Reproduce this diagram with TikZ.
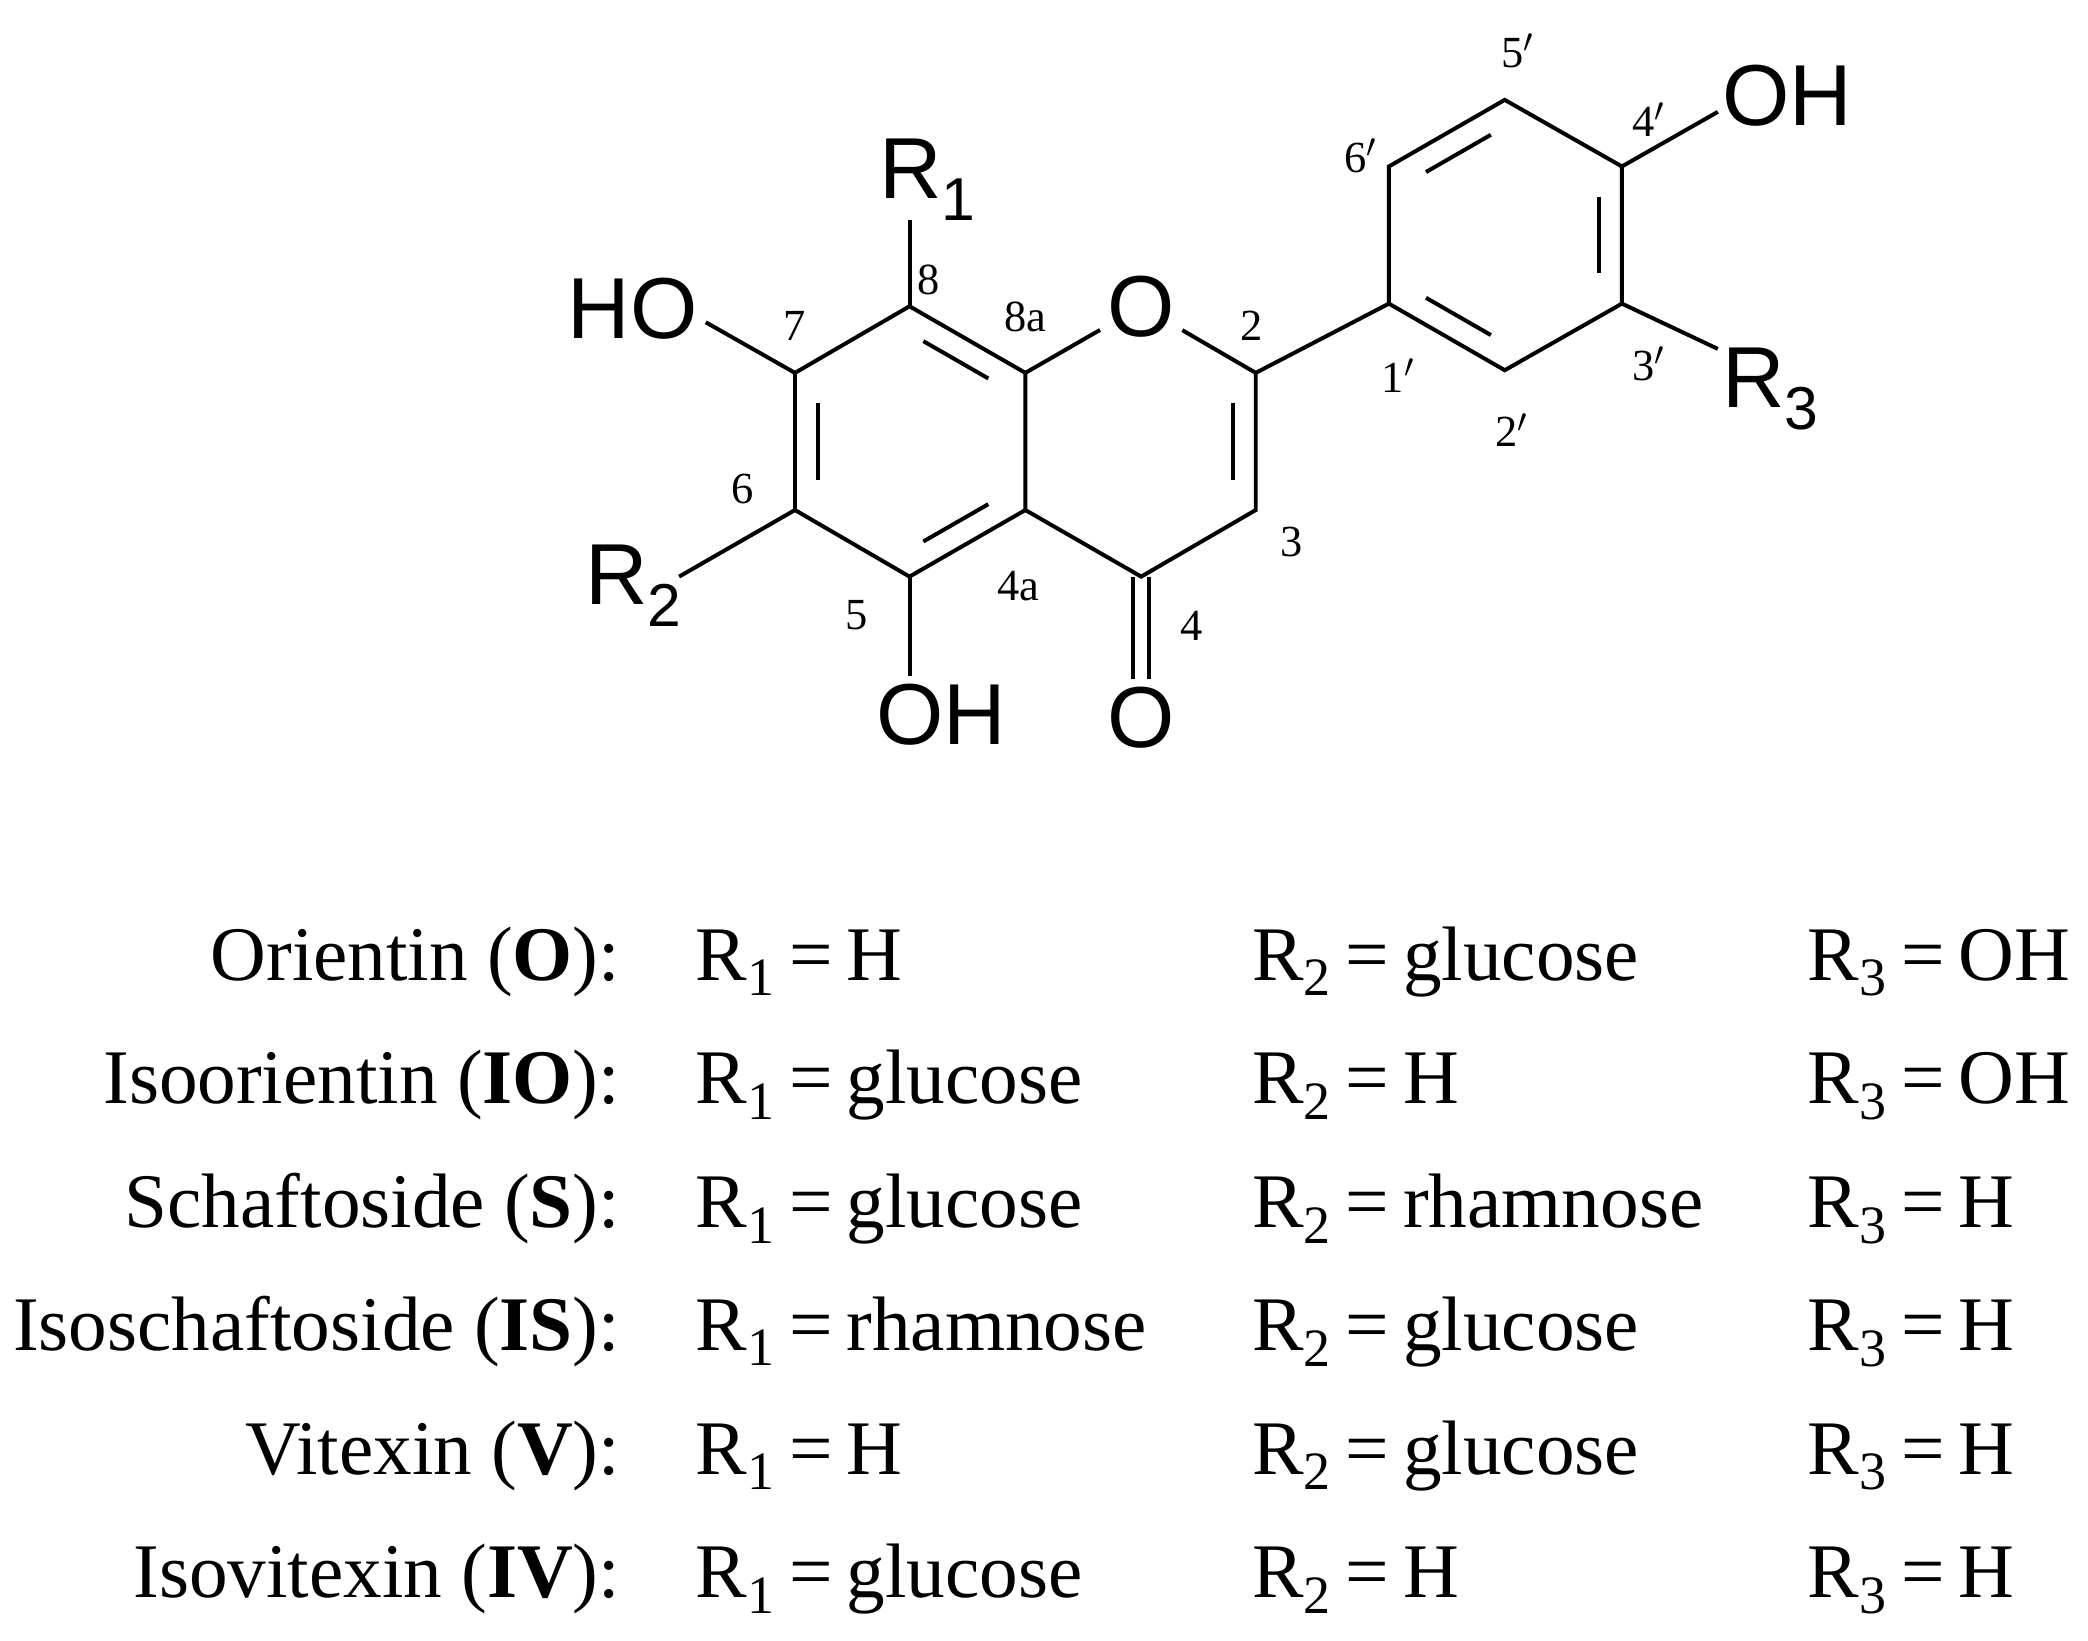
\documentclass[tikz,border=0pt]{standalone}
\usepackage{fontspec}
\setmainfont{Liberation Serif}
\newfontfamily\arialf{Liberation Sans}
\usetikzlibrary{calc}
\tikzset{
  bond/.style={line width=1.7pt},
  atom/.style={font=\arialf\fontsize{37}{40}\selectfont,inner sep=3pt},
  num/.style={font=\fontsize{19}{22}\selectfont,inner sep=0pt},
  tname/.style={anchor=base east,font=\fontsize{33}{38}\selectfont,inner sep=0pt},
  tcell/.style={anchor=base west,font=\fontsize{33}{38}\selectfont,inner sep=0pt}
}
\newcommand{\dbin}[3]{\draw[bond] ($($(#1)!.15!(#2)$)!.2!(#3)$) -- ($($(#2)!.15!(#1)$)!.2!(#3)$);}
\newcommand{\eqs}{\hspace{0.18em}=\hspace{0.18em}}
\begin{document}
\begin{tikzpicture}[x=0.02cm,y=-0.02cm]
\useasboundingbox (0,0) rectangle (1568,1232);
% ring A
\coordinate (C8) at (683,230);
\coordinate (C7) at (597,280);
\coordinate (C6) at (597,383);
\coordinate (C5) at (683,433);
\coordinate (C4a) at (770,383);
\coordinate (C8a) at (770,280);
\coordinate (cA) at (683,331);
\node[atom] (O1) at (857,230) {O};
\coordinate (C2) at (943,280);
\coordinate (C3) at (943,383);
\coordinate (C4) at (857,433);
\coordinate (cC) at (857,331);
\node[atom,anchor=north] (O4) at (857,510) {O};
% ring B
\coordinate (C1p) at (1043,228);
\coordinate (C2p) at (1130,278);
\coordinate (C3p) at (1218,228);
\coordinate (C4p) at (1218,125);
\coordinate (C5p) at (1130,75);
\coordinate (C6p) at (1043,125);
\coordinate (cB) at (1130,176);
% substituents
\node[atom,anchor=north] (OH5) at (707,508) {OH};
\node[atom] (R2) at (476,440) {R\textsubscript{2}};
\node[atom] (HO7) at (475,232) {HO};
\node[atom] (R1) at (697,135) {R\textsubscript{1}};
\node[atom] (OH4p) at (1342,72) {OH};
\node[atom] (R3) at (1330,292) {R\textsubscript{3}};
% bonds
\draw[bond] (C8)--(C7)--(C6)--(C5)--(C4a)--(C8a)--cycle;
\draw[bond] (C8a)--(O1)--(C2)--(C3)--(C4)--(C4a);
\dbin{C8}{C8a}{cA}\dbin{C7}{C6}{cA}\dbin{C5}{C4a}{cA}
\dbin{C2}{C3}{cC}
\draw[bond] ($(C4)+(-6,0)$) -- ($(O4.north)+(-6,0)$);
\draw[bond] ($(C4)+(6,0)$) -- ($(O4.north)+(6,0)$);
\draw[bond] (C2)--(C1p);
\draw[bond] (C1p)--(C2p)--(C3p)--(C4p)--(C5p)--(C6p)--cycle;
\dbin{C6p}{C5p}{cB}\dbin{C4p}{C3p}{cB}\dbin{C2p}{C1p}{cB}
\draw[bond] (C5)--(OH5.north -| C5);
\draw[bond] (C6)--(510,433);
\draw[bond] (C7)--(530,242);
\draw[bond] (C8)--(683,165);
\draw[bond] (C4p)--(1290,84);
\draw[bond] (C3p)--(1290,262);
% numbers
\node[num] (n8) at (697,210) {8};
\node[num] (n7) at (597,245) {7};
\node[num] (n8a) at (770,238) {8a};
\node[num] (n2) at (940,245) {2};
\node[num] (n1p) at (1050,282) {1$'$};
\node[num] (n2p) at (1135,323) {2$'$};
\node[num] (n3p) at (1238,273) {3$'$};
\node[num] (n4p) at (1238,90) {4$'$};
\node[num] (n5p) at (1140,38) {5$'$};
\node[num] (n6p) at (1022,117) {6$'$};
\node[num] (n6) at (558,367) {6};
\node[num] (n5) at (643,462) {5};
\node[num] (n4a) at (765,440) {4a};
\node[num] (n3) at (970,407) {3};
\node[num] (n4) at (895,470) {4};
% table
\foreach \y/\nm/\a/\b/\c [count=\i] in {
 736/{Orientin (\textbf{O}):}/H/glucose/OH,
 829/{Isoorientin (\textbf{IO}):}/glucose/H/OH,
 922/{Schaftoside (\textbf{S}):}/glucose/rhamnose/H,
 1014/{Isoschaftoside (\textbf{IS}):}/rhamnose/glucose/H,
 1107/{Vitexin (\textbf{V}):}/H/glucose/H,
 1200/{Isovitexin (\textbf{IV}):}/glucose/H/H}{
 \node[tname] (nm\i) at (466,\y) {\nm};
 \node[tcell] (ra\i) at (522,\y) {R\textsubscript{1}\eqs\a};
 \node[tcell] (rb\i) at (940,\y) {R\textsubscript{2}\eqs\b};
 \node[tcell] (rc\i) at (1357,\y) {R\textsubscript{3}\eqs\c};
}
\end{tikzpicture}
\end{document}
